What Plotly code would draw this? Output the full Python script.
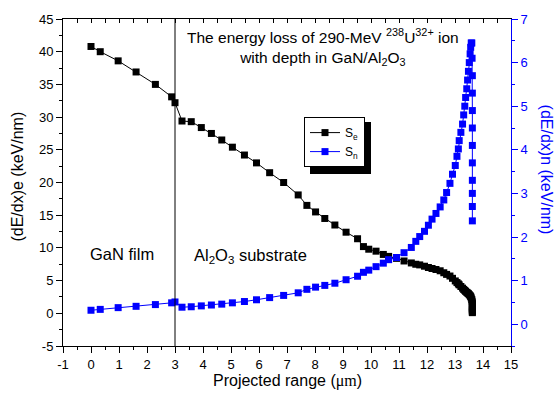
import plotly.graph_objects as go

# ---------------- data ----------------
depth_um = [
    0.00, 0.33, 0.97, 1.61, 2.30, 2.88, 3.00,
    3.25, 3.58, 3.94, 4.30, 4.67, 5.05, 5.48, 5.91, 6.38, 6.88, 7.40, 7.71, 8.02,
    8.35, 8.71, 9.11, 9.52, 9.73, 9.92,
    10.18, 10.44, 10.63, 10.91, 11.18, 11.44, 11.60, 11.74, 11.91, 12.05,
    12.18, 12.32, 12.47, 12.60, 12.70, 12.82, 12.91, 13.01, 13.07, 13.12, 13.15, 13.21, 13.27,
    13.31, 13.35, 13.38, 13.42, 13.45, 13.48, 13.51, 13.54, 13.56, 13.58, 13.60, 13.61,
    13.62, 13.62, 13.62, 13.62, 13.62, 13.62, 13.62, 13.62, 13.62, 13.62,
]

se_kev_nm = [
    40.8, 40.0, 38.6, 36.9, 35.0, 33.1, 32.2,
    29.4, 29.3, 28.4, 27.5, 26.5, 25.4, 24.2, 23.0, 21.5, 20.0, 18.1, 16.5, 15.5,
    14.5, 13.5, 12.4, 11.4, 10.2, 9.8,
    9.5, 9.0, 8.7, 8.4, 8.0, 7.7, 7.5, 7.4, 7.2, 7.0,
    6.85, 6.7, 6.5, 6.2, 5.95, 5.7, 5.35, 4.95, 4.7, 4.5, 4.35, 4.1, 3.85,
    3.65, 3.5, 3.35, 3.2, 3.1, 3.0, 2.85, 2.7, 2.55, 2.35, 2.1, 1.85,
    1.6, 1.4, 1.2, 1.0, 0.8, 0.65, 0.5, 0.35, 0.2, 0.1,
]

sn_kev_nm = [
    0.32, 0.34, 0.38, 0.41, 0.45, 0.49, 0.51,
    0.39, 0.40, 0.42, 0.44, 0.46, 0.49, 0.52, 0.56, 0.61, 0.66, 0.72, 0.80, 0.85,
    0.89, 0.94, 1.02, 1.10, 1.19, 1.24,
    1.32, 1.40, 1.48, 1.53, 1.64, 1.76, 1.90, 2.01, 2.13, 2.27,
    2.41, 2.54, 2.69, 2.85, 3.02, 3.23, 3.44, 3.64, 3.85, 4.02, 4.21, 4.40, 4.59,
    4.80, 5.00, 5.20, 5.40, 5.60, 5.80, 6.00, 6.20, 6.35, 6.45, 6.45, 6.10,
    5.70, 5.30, 4.90, 4.50, 4.10, 3.70, 3.30, 3.00, 2.70, 2.37,
]

interface_um = 3.0

x_tick_vals = list(range(-1, 16))
x_tick_text = [str(v) for v in x_tick_vals]          # plain hyphen for "-1"
y_tick_vals = list(range(-5, 50, 5))
y_tick_text = [str(v) for v in y_tick_vals]          # plain hyphen for "-5"
y2_tick_vals = list(range(0, 8))
y2_tick_text = [str(v) for v in y2_tick_vals]

# ---------------- layout geometry ----------------
W, H = 556, 393
ML, MR, MT, MB = 63, 45, 16, 47
PW, PH = W - ML - MR, H - MT - MB


def px_x(p):
    return (p - ML) / PW


def px_y(p):
    return (H - MB - p) / PH


FONT = "Liberation Sans, Arial, sans-serif"
BLUE = "#0000FF"

fig = go.Figure()

fig.add_trace(go.Scatter(
    x=depth_um, y=se_kev_nm, name="S<sub>e</sub>", mode="lines+markers",
    line=dict(color="black", width=1),
    marker=dict(symbol="square", size=7, color="black"),
    xaxis="x", yaxis="y",
))
fig.add_trace(go.Scatter(
    x=depth_um, y=sn_kev_nm, name="S<sub>n</sub>", mode="lines+markers",
    line=dict(color=BLUE, width=1),
    marker=dict(symbol="square", size=7, color=BLUE),
    xaxis="x", yaxis="y2",
))
# invisible trace so the top (inward ticks) axis is drawn
fig.add_trace(go.Scatter(
    x=depth_um, y=se_kev_nm, mode="none", showlegend=False, hoverinfo="skip",
    xaxis="x3", yaxis="y",
))

axis_common = dict(showgrid=False, zeroline=False, showline=True, linewidth=1)

fig.update_layout(
    width=W, height=H,
    margin=dict(l=ML, r=MR, t=MT, b=MB),
    paper_bgcolor="white", plot_bgcolor="white",
    font=dict(family=FONT, size=13, color="black"),
    showlegend=True,
    legend=dict(
        x=px_x(304), y=px_y(115), xanchor="left", yanchor="top",
        bgcolor="white", bordercolor="black", borderwidth=1,
        font=dict(size=12, family=FONT), itemwidth=30,
        tracegroupgap=0,
    ),
    xaxis=dict(
        **axis_common, linecolor="black",
        range=[-1, 15], tickmode="array", tickvals=x_tick_vals, ticktext=x_tick_text,
        ticks="outside", ticklen=6, tickcolor="black",
        minor=dict(dtick=0.5, tick0=-1, ticks="outside", ticklen=3, tickcolor="black"),
        tickfont=dict(size=13),
    ),
    xaxis3=dict(
        **axis_common, linecolor="black",
        overlaying="x", side="top", anchor="y", matches="x",
        range=[-1, 15], tick0=-1, dtick=0.5,
        ticks="inside", ticklen=4, tickcolor="black", showticklabels=False,
    ),
    yaxis=dict(
        **axis_common, linecolor="black",
        range=[-5, 45], tickmode="array", tickvals=y_tick_vals, ticktext=y_tick_text,
        ticks="outside", ticklen=6, tickcolor="black",
        minor=dict(dtick=2.5, tick0=-5, ticks="outside", ticklen=3, tickcolor="black"),
        tickfont=dict(size=13),
    ),
    yaxis2=dict(
        **axis_common, linecolor=BLUE,
        overlaying="y", side="right", anchor="x",
        range=[-0.5, 7], tickmode="array", tickvals=y2_tick_vals, ticktext=y2_tick_text,
        ticks="outside", ticklen=6, tickcolor=BLUE,
        minor=dict(dtick=0.5, tick0=-0.5, ticks="outside", ticklen=3, tickcolor=BLUE),
        tickfont=dict(size=13, color=BLUE),
    ),
)

# interface line at 3 um
fig.add_shape(type="line", xref="x", yref="paper", x0=interface_um, x1=interface_um,
              y0=0, y1=1, line=dict(color="black", width=1))

# legend shadow
fig.add_shape(type="rect", xref="paper", yref="paper", layer="above",
              x0=px_x(310), x1=px_x(371), y0=px_y(172.5), y1=px_y(120),
              fillcolor="black", line=dict(width=0))

ann = []


def add_text(text, x, y, size, angle=0, color="black"):
    ann.append(dict(text=text, xref="paper", yref="paper", x=px_x(x), y=px_y(y),
                    showarrow=False, textangle=angle, xanchor="center", yanchor="middle",
                    align="center", font=dict(size=size, family=FONT, color=color)))


add_text("The energy loss of 290-MeV <sup>238</sup>U<sup>32+</sup> ion<br>with depth in GaN/Al<sub>2</sub>O<sub>3</sub>",
         323, 44, 15.5)
add_text("GaN film", 122, 253, 16.5)
add_text("Al<sub>2</sub>O<sub>3</sub> substrate", 250, 255, 16.5)
add_text("Projected range (<span style='font-family:Liberation Serif, Times New Roman, serif'>\u03bcm</span>)",
         287, 381, 16)
add_text("(dE/dx)e (keV/nm)", 18, 175, 16, angle=-90)
add_text("(dE/dx)n (keV/nm)", 546, 168, 16, angle=90, color=BLUE)
fig.update_layout(annotations=ann)

fig.write_html("out.html")
